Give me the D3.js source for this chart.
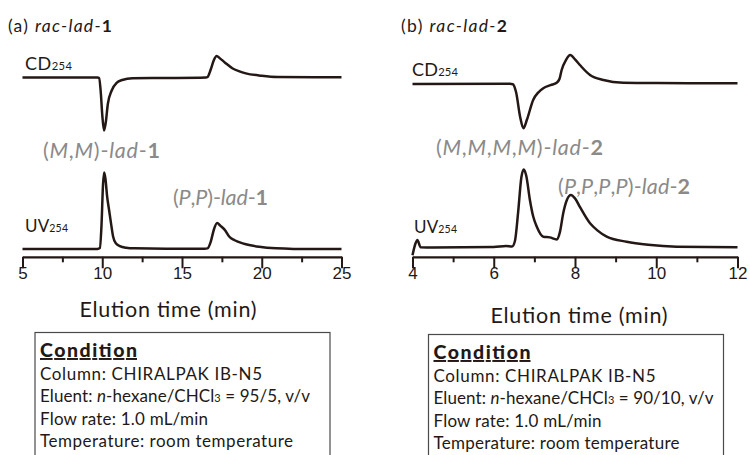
<!DOCTYPE html>
<html>
<head>
<meta charset="utf-8">
<script src="https://cdn.jsdelivr.net/npm/d3@7"></script>
<style>
  html, body { margin: 0; padding: 0; background: #fff; }
  svg { display: block; font-family: Lato, "Open Sans", sans-serif; }
</style>
</head>
<body>
<svg id="chart" width="750" height="455"></svg>
<script>
// (a) rac-lad-1 : [time (min), signal] pairs, UV peak = 100, CD dip = -100
const uvA = [
  [5.0, 0.5], [8.5, 0.6], [9.7, 0.8], [9.85, 2], [9.95, 30], [10.05, 85], [10.12, 100],
  [10.2, 92], [10.3, 70], [10.43, 51], [10.55, 34], [10.68, 17], [10.85, 8], [11.1, 4.5],
  [11.5, 2.3], [12.0, 1.5], [14.0, 1.0], [16.4, 1.0], [16.6, 1.5], [16.8, 10], [17.0, 26],
  [17.2, 34.5], [17.4, 31], [17.7, 25], [17.97, 16.5], [18.3, 12], [18.8, 8], [19.3, 5.5],
  [19.84, 3.6], [20.9, 1.5], [22.0, 0.8], [25.0, 0.5]
];
const cdA = [
  [5.0, 0], [9.7, 0], [9.8, -1], [9.9, -25], [10.0, -70], [10.11, -100], [10.22, -85],
  [10.35, -50], [10.6, -24], [10.9, -10], [11.25, -4.7], [11.9, -1.5], [14.0, -1],
  [16.5, 0], [16.6, 1], [16.8, 15], [17.0, 33], [17.17, 40.6], [17.35, 37], [17.7, 28],
  [18.18, 17], [18.6, 11.5], [19.0, 7.8], [20.0, 3.3], [21.0, 1.0], [25.0, 0.5]
];
// (b) rac-lad-2
const uvB = [
  [4.0, -10], [4.08, 6], [4.12, 9.6], [4.2, 0.3], [4.5, 0], [6.0, 0.5], [6.3, 1.8],
  [6.45, 1.2], [6.52, 8], [6.6, 45], [6.68, 90], [6.74, 100], [6.8, 92], [6.89, 61],
  [6.97, 40], [7.06, 26.5], [7.22, 13.8], [7.38, 13], [7.55, 10.4], [7.63, 20], [7.71, 44],
  [7.8, 61], [7.9, 67.3], [8.0, 63], [8.12, 52], [8.37, 31], [8.55, 22], [8.78, 14],
  [9.27, 7.4], [9.8, 3.5], [10.5, 1], [12.0, 0.3]
];
const cdB = [
  [4.0, -1.5], [6.4, -1], [6.47, -2], [6.55, -20], [6.65, -75], [6.73, -100], [6.82, -80],
  [6.97, -37], [7.1, -20], [7.22, -11], [7.4, -4], [7.55, 1.3], [7.62, 10], [7.67, 29],
  [7.78, 52], [7.88, 62.9], [8.0, 53], [8.12, 40.7], [8.37, 18.4], [8.7, 7.4], [9.19, 1.3],
  [10.0, 0.5], [12.0, 0]
];

const majorTicksA = [5, 10, 15, 20, 25];
const minorTicksA = [7.5, 12.5, 17.5, 22.5];
const majorTicksB = [4, 6, 8, 10, 12];
const minorTicksB = [5, 7, 9, 11];

const conditionA = ["Column: CHIRALPAK IB-N5", "Eluent: |n|-hexane/CHCl|3| = 95/5, v/v", "Flow rate: 1.0 mL/min", "Temperature: room temperature"];
const conditionB = ["Column: CHIRALPAK IB-N5", "Eluent: |n|-hexane/CHCl|3| = 90/10, v/v", "Flow rate: 1.0 mL/min", "Temperature: room temperature"];

const ink = "#231815";
const grey = "#8a8a8a";
const svg = d3.select("#chart");

const panels = [
  {
    tag: "a", uv: uvA, cd: cdA, major: majorTicksA, minor: minorTicksA, cond: conditionA,
    x: d3.scaleLinear([5, 25], [22.5, 341.5]),
    yUv: d3.scaleLinear([0, 100], [249.5, 172.5]),
    yCd: d3.scaleLinear([-100, 0], [130.5, 77.5]),
    title: { x: 8, y: 32, w: 104, num: "1" },
    cdLabel: { x: 25, y: 69.5, w: 47 }, uvLabel: { x: 25, y: 231.5, w: 43 },
    peaks: [
      { x: 43, y: 158, w: 117, parts: [["(", ""], ["M", "i"], [",", ""], ["M", "i"], [")-", ""], ["lad", "i"], ["-", ""], ["1", "b"]] },
      { x: 173, y: 205, w: 95, parts: [["(", ""], ["P", "i"], [",", ""], ["P", "i"], [")-", ""], ["lad", "i"], ["-", ""], ["1", "b"]] }
    ],
    xTitle: { x: 168, y: 317 },
    box: { x: 35, y: 332.5, w: 295 },
    condW: [222, 270, 168, 253]
  },
  {
    tag: "b", uv: uvB, cd: cdB, major: majorTicksB, minor: minorTicksB, cond: conditionB,
    x: d3.scaleLinear([4, 12], [412.5, 737.5]),
    yUv: d3.scaleLinear([0, 100], [247.5, 169.5]),
    yCd: d3.scaleLinear([-100, 0], [128.3, 83.3]),
    title: { x: 401, y: 32, w: 106, num: "2" },
    cdLabel: { x: 412, y: 75.5, w: 46 }, uvLabel: { x: 414, y: 232.5, w: 43 },
    peaks: [
      { x: 436, y: 155, w: 167, parts: [["(", ""], ["M", "i"], [",", ""], ["M", "i"], [",", ""], ["M", "i"], [",", ""], ["M", "i"], [")-", ""], ["lad", "i"], ["-", ""], ["2", "b"]] },
      { x: 558, y: 194, w: 132, parts: [["(", ""], ["P", "i"], [",", ""], ["P", "i"], [",", ""], ["P", "i"], [",", ""], ["P", "i"], [")-", ""], ["lad", "i"], ["-", ""], ["2", "b"]] }
    ],
    xTitle: { x: 579, y: 323 },
    box: { x: 428.5, y: 334.5, w: 295 },
    condW: [222, 280, 168, 246]
  }
];

function styled(sel, parts) {
  parts.forEach(([t, s]) => {
    sel.append("tspan")
      .attr("font-style", s === "i" ? "italic" : null)
      .attr("font-weight", s === "b" ? "bold" : null)
      .text(t);
  });
}

// stretch a text to the width it has in the picture
function fit(sel, w) {
  sel.attr("textLength", w).attr("lengthAdjust", "spacing");
}

function subLabel(g, pos, main, size) {
  const t = g.append("text").attr("x", pos.x).attr("y", pos.y)
    .attr("font-size", size).attr("fill", ink);
  t.append("tspan").text(main);
  t.append("tspan").attr("font-size", size * 0.62).text("254");
  fit(t, pos.w);
}

panels.forEach(p => {
  const g = svg.append("g");
  const yAxis = 256.8;

  // title
  const title = g.append("text").attr("x", p.title.x).attr("y", p.title.y)
    .attr("font-size", 17.5).attr("fill", ink);
  styled(title, [["(" + p.tag + ") ", ""], ["rac", "i"], ["-", "i"], ["lad", "i"], ["-", "i"], [p.title.num, "b"]]);
  fit(title, p.title.w);

  // traces
  const lineCd = d3.line().x(d => p.x(d[0])).y(d => p.yCd(d[1])).curve(d3.curveMonotoneX);
  const lineUv = d3.line().x(d => p.x(d[0])).y(d => p.yUv(d[1])).curve(d3.curveMonotoneX);
  [[p.cd, lineCd], [p.uv, lineUv]].forEach(([data, gen]) => {
    g.append("path").datum(data).attr("d", gen)
      .attr("fill", "none").attr("stroke", ink).attr("stroke-width", 2.5)
      .attr("stroke-linejoin", "round");
  });

  subLabel(g, p.cdLabel, "CD", 18);
  subLabel(g, p.uvLabel, "UV", 17);

  p.peaks.forEach(pk => {
    const t = g.append("text").attr("x", pk.x).attr("y", pk.y)
      .attr("font-size", 21.5).attr("fill", grey);
    styled(t, pk.parts);
    fit(t, pk.w);
  });

  // axis: major + minor ticks
  const major = g.append("g").attr("transform", `translate(0,${yAxis})`)
    .call(d3.axisBottom(p.x).tickValues(p.major).tickSize(11.5).tickSizeOuter(0));
  major.select(".domain").attr("stroke", ink).attr("stroke-width", 2.2);
  major.selectAll(".tick line").attr("stroke", ink).attr("stroke-width", 2);
  major.selectAll(".tick text").attr("y", 22.5).attr("dy", 0)
    .attr("font-family", "'Liberation Sans', Arial, sans-serif")
    .attr("font-size", 17).attr("fill", ink);

  const minor = g.append("g").attr("transform", `translate(0,${yAxis})`)
    .call(d3.axisBottom(p.x).tickValues(p.minor).tickSize(5.5).tickFormat(""));
  minor.select(".domain").remove();
  minor.selectAll(".tick line").attr("stroke", ink).attr("stroke-width", 2);

  const xt = g.append("text").attr("x", p.xTitle.x).attr("y", p.xTitle.y)
    .attr("text-anchor", "middle").attr("font-size", 21.5).attr("fill", ink)
    .text("Elution time (min)");
  fit(xt, 177);

  // condition box
  g.append("rect").attr("x", p.box.x).attr("y", p.box.y)
    .attr("width", p.box.w).attr("height", 200)
    .attr("fill", "none").attr("stroke", "#4a4a4a").attr("stroke-width", 1.2);

  const tx = p.box.x + 5;
  const head = g.append("text").attr("x", tx).attr("y", p.box.y + 24.5)
    .attr("font-size", 19.5).attr("font-weight", 900).attr("fill", ink)
    .attr("text-decoration", "underline").text("Condition");
  fit(head, 97);

  p.cond.forEach((line, i) => {
    const t = g.append("text").attr("x", tx).attr("y", p.box.y + 47.5 + i * 22.3)
      .attr("font-size", 17).attr("fill", ink);
    line.split("|").forEach(seg => {
      const ts = t.append("tspan").text(seg);
      if (seg === "n") ts.attr("font-style", "italic");
      if (seg === "3") ts.attr("font-size", 11);
    });
    fit(t, p.condW[i]);
  });
});
</script>
</body>
</html>
